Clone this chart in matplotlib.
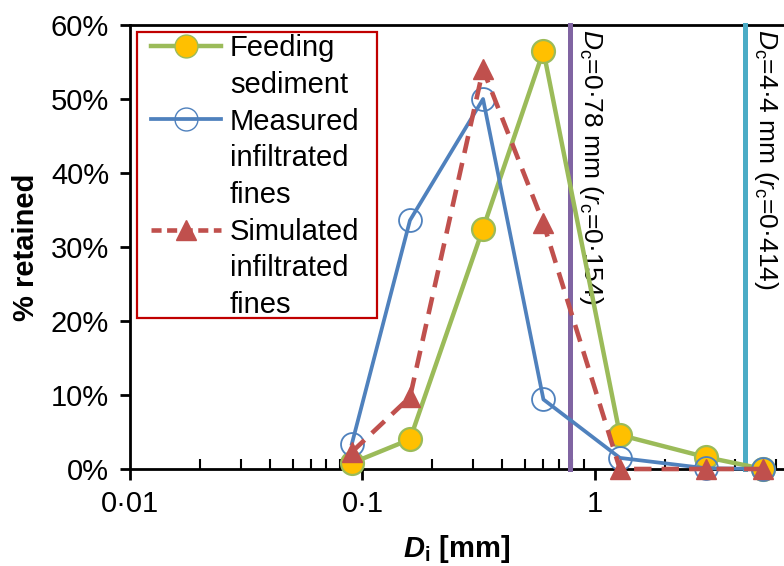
import matplotlib.pyplot as plt
from matplotlib.lines import Line2D
from matplotlib.patches import Rectangle
from matplotlib.ticker import FixedLocator, LogLocator, FuncFormatter, NullFormatter

# Tamaños de grano (mm) y porcentaje retenido en cada tamiz
diametros = [0.09, 0.16, 0.33, 0.6, 1.28, 3.0, 5.3]
sedimento_alimentacion = [0.8, 4.0, 32.5, 56.5, 4.6, 1.6, 0.0]
finos_medidos = [3.4, 33.6, 50.0, 9.4, 1.5, 0.1, 0.0]
finos_simulados = [2.3, 9.7, 54.0, 33.2, 0.0, 0.0, 0.0]

# Diámetros críticos y sus razones
dc_valores = [0.78, 4.4]
rc_valores = ['0·154', '0·414']
dc_textos = ['0·78', '4·4']
dc_colores = ['#8064A2', '#4BACC6']

ticks_x = [0.01, 0.1, 1]
etiquetas_x = ['0·01', '0·1', '1']
ticks_y = [0, 10, 20, 30, 40, 50, 60]

plt.rcParams['font.family'] = ['Liberation Sans', 'DejaVu Sans']
plt.rcParams['font.size'] = 21
plt.rcParams['mathtext.fontset'] = 'custom'
plt.rcParams['mathtext.rm'] = 'Liberation Sans'
plt.rcParams['mathtext.it'] = 'Liberation Sans:italic'
plt.rcParams['mathtext.bf'] = 'Liberation Sans:bold'
plt.rcParams['mathtext.bfit'] = 'Liberation Sans:italic:bold'

fig = plt.figure(figsize=(7.84, 5.66), dpi=100)
ax = fig.add_axes([130 / 784, 1 - 469 / 566, 1 - 130 / 784, 444 / 566])

# Series de datos
ax.plot(diametros, sedimento_alimentacion, color='#9BBB59', linewidth=3.2,
        marker='o', markersize=16.5, markerfacecolor='#FFC000',
        markeredgecolor='#9BBB59', markeredgewidth=1.6, clip_on=False, zorder=4)
ax.plot(diametros, finos_medidos, color='#4F81BD', linewidth=2.7,
        marker='o', markersize=16.5, fillstyle='none',
        markeredgecolor='#4F81BD', markeredgewidth=1.3, clip_on=False, zorder=5)
ax.plot(diametros, finos_simulados, color='#C0504D', linewidth=3.3,
        linestyle=(0, (3.8, 2.2)), marker='^', markersize=15,
        markerfacecolor='#C0504D', markeredgecolor='#C0504D',
        clip_on=False, zorder=6)

# Líneas verticales de los diámetros críticos con su etiqueta
for dc, texto, rc, color in zip(dc_valores, dc_textos, rc_valores, dc_colores):
    ax.axvline(dc, color=color, linewidth=3.6, zorder=3, clip_on=False)
    ax.annotate(r'$D_\mathrm{c}$=' + texto + r' mm ($r_\mathrm{c}$=' + rc + ')',
                xy=(dc, 1), xycoords=ax.get_xaxis_transform(),
                xytext=(5, -3), textcoords='offset points', fontsize=19,
                rotation=270, ha='left', va='top', annotation_clip=False)

# Ejes
ax.set_xscale('log')
ax.set_xlim(0.01, 6.5)
ax.set_ylim(0, 60)
ax.xaxis.set_major_locator(FixedLocator(ticks_x))
ax.xaxis.set_major_formatter(FuncFormatter(lambda v, p: etiquetas_x[ticks_x.index(v)] if v in ticks_x else ''))
ax.xaxis.set_minor_locator(LogLocator(base=10, subs=range(2, 10)))
ax.xaxis.set_minor_formatter(NullFormatter())
ax.set_yticks(ticks_y)
ax.yaxis.set_major_formatter(FuncFormatter(lambda v, p: f'{v:.0f}%'))

ax.tick_params(axis='x', which='major', direction='out', length=8, width=2, pad=7)
ax.tick_params(axis='x', which='minor', direction='in', length=7, width=1.5)
ax.tick_params(axis='y', which='major', direction='out', length=7, width=2, pad=8)
for lado in ['left', 'bottom', 'top']:
    ax.spines[lado].set_linewidth(2)
ax.spines['right'].set_visible(False)

ax.set_xlabel(r'$\mathbfit{D}_\mathbf{i}$ [mm]', fontweight='bold', labelpad=11)
ax.set_ylabel('% retained', fontweight='bold', labelpad=8)

# Leyenda: una fila por línea de texto, el símbolo sólo en la primera
vacio = Line2D([], [], color='none')
simbolos = [
    Line2D([], [], color='#9BBB59', linewidth=3.2, marker='o', markersize=16.5,
           markerfacecolor='#FFC000', markeredgecolor='#9BBB59'),
    vacio,
    Line2D([], [], color='#4F81BD', linewidth=2.7, marker='o', markersize=16.5,
           fillstyle='none', markeredgecolor='#4F81BD'),
    vacio, vacio,
    Line2D([], [], color='#C0504D', linewidth=3.3, linestyle=(0, (2.2, 1.2)),
           marker='^', markersize=15, markerfacecolor='#C0504D',
           markeredgecolor='#C0504D'),
    vacio, vacio,
]
textos = ['Feeding', 'sediment', 'Measured', 'infiltrated', 'fines',
          'Simulated', 'infiltrated', 'fines']

# Marco de la leyenda dibujado aparte (más margen a los lados que arriba)
marco = Rectangle((7 / 654, 151 / 444), 240 / 654, 286 / 444,
                  transform=ax.transAxes, fill=True, facecolor='white',
                  edgecolor='#C00000', linewidth=1.6, zorder=7)
ax.add_patch(marco)
leyenda = ax.legend(simbolos, textos, loc='upper left',
                    bbox_to_anchor=(21 / 654, 435 / 444), borderaxespad=0,
                    frameon=False, handlelength=2.4, handletextpad=0.3,
                    labelspacing=0.3, borderpad=0, fontsize=21)
leyenda.set_zorder(8)

fig.savefig('out.png', dpi=100)
